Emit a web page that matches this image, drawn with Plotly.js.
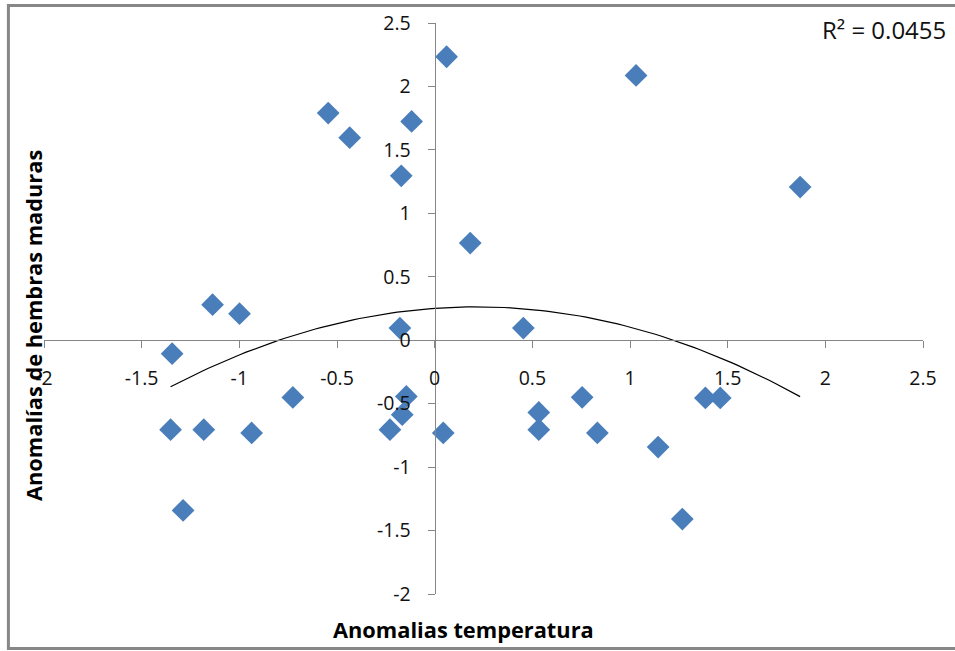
<!DOCTYPE html>
<html>
<head>
<meta charset="utf-8">
<script src="https://cdn.plot.ly/plotly-3.0.1.min.js"></script>
<style>html,body{margin:0;padding:0;background:#fff;}#chart{width:955px;height:651px;}</style>
</head>
<body>
<div id="chart"></div>
<script>
// Temperature anomalies (x) and mature-female anomalies (y)
const tempAnomalies = [0.061, 1.031, -0.545, -0.435, -0.118, -0.171, 1.871, 0.182, -1.137, -0.999,
  -0.178, 0.454, -1.344, -0.726, -0.145, -0.166, -0.229, -1.352, -1.182, -0.937,
  0.044, -1.288, 0.533, 0.533, 0.755, 0.833, 1.144, 1.386, 1.462, 1.268];
const femaleAnomalies = [2.234, 2.087, 1.790, 1.596, 1.724, 1.296, 1.207, 0.766, 0.280, 0.209,
  0.096, 0.096, -0.106, -0.451, -0.443, -0.587, -0.705, -0.705, -0.705, -0.731,
  -0.731, -1.341, -0.569, -0.705, -0.450, -0.731, -0.842, -0.455, -0.455, -1.409];
const tickValues = [-2, -1.5, -1, -0.5, 0, 0.5, 1, 1.5, 2, 2.5];
const tickLabels = ["-2", "-1.5", "-1", "-0.5", "0", "0.5", "1", "1.5", "2", "2.5"];
const xTitle = "Anomalias temperatura";
const yTitle = "Anomalías de hembras maduras";
const r2Label = "R² = 0.0455";

// Polynomial (order 2) least-squares trendline from the data
function polyFit2(xs, ys) {
  let S = [0,0,0,0,0], T = [0,0,0];
  for (let i = 0; i < xs.length; i++) {
    let p = 1;
    for (let k = 0; k < 5; k++) { S[k] += p; if (k < 3) T[k] += p * ys[i]; p *= xs[i]; }
  }
  const A = [[S[0],S[1],S[2],T[0]],[S[1],S[2],S[3],T[1]],[S[2],S[3],S[4],T[2]]];
  for (let c = 0; c < 3; c++) {
    for (let r = c + 1; r < 3; r++) {
      const f = A[r][c] / A[c][c];
      for (let k = c; k < 4; k++) A[r][k] -= f * A[c][k];
    }
  }
  const sol = [0,0,0];
  for (let r = 2; r >= 0; r--) {
    let s = A[r][3];
    for (let k = r + 1; k < 3; k++) s -= A[r][k] * sol[k];
    sol[r] = s / A[r][r];
  }
  return sol;
}
const coef = polyFit2(tempAnomalies, femaleAnomalies);
const xmin = Math.min(...tempAnomalies), xmax = Math.max(...tempAnomalies);
const trendX = [], trendY = [];
for (let i = 0; i <= 100; i++) {
  const x = xmin + (xmax - xmin) * i / 100;
  trendX.push(x); trendY.push(coef[0] + coef[1] * x + coef[2] * x * x);
}

const axisColor = '#868686';
const tickFont = {family: 'Open Sans, sans-serif', size: 19.5, color: '#111'};
const zeroPos = 2 / 4.5;

const data = [
  {x: trendX, y: trendY, mode: 'lines', type: 'scatter', line: {color: '#000', width: 1.2}, hoverinfo: 'skip'},
  {x: tempAnomalies, y: femaleAnomalies, mode: 'markers', type: 'scatter',
   marker: {symbol: 'diamond', size: 17.5, color: '#4a7ebb', line: {width: 0}}, cliponaxis: false}
];

const layout = {
  width: 955, height: 651,
  margin: {l: 44, r: 32, t: 23, b: 57},
  paper_bgcolor: '#fff', plot_bgcolor: '#fff',
  showlegend: false,
  xaxis: {
    range: [-2, 2.5], tickvals: tickValues, ticktext: tickLabels,
    showgrid: false, zeroline: false, showline: true, linecolor: axisColor, linewidth: 1,
    ticks: 'outside', ticklen: 7, tickcolor: axisColor, tickfont: tickFont,
    anchor: 'free', position: zeroPos, ticklabelstandoff: 13, fixedrange: true
  },
  yaxis: {
    range: [-2, 2.5], tickvals: tickValues, ticktext: tickLabels,
    showgrid: false, zeroline: false, showline: true, linecolor: axisColor, linewidth: 1,
    ticks: 'outside', ticklen: 7, tickcolor: axisColor, tickfont: tickFont,
    anchor: 'free', position: zeroPos, ticklabelstandoff: 13, fixedrange: true
  },
  shapes: [
    {type: 'rect', xref: 'paper', yref: 'paper', x0: -0.0405, x1: 1.045, y0: -0.0955, y1: 1.0305,
     line: {color: '#878787', width: 3}, fillcolor: 'rgba(0,0,0,0)', layer: 'below'}
  ],
  annotations: [
    {text: xTitle, xref: 'paper', yref: 'paper', x: (463 - 44) / 879, y: (594 - 629) / 571,
     xanchor: 'center', yanchor: 'middle', showarrow: false,
     font: {family: 'Open Sans, sans-serif', size: 21.8, color: '#000', weight: 'bold'}},
    {text: yTitle, xref: 'paper', yref: 'paper', x: (33.5 - 44) / 879, y: (594 - 325.5) / 571,
     xanchor: 'center', yanchor: 'middle', textangle: -90, showarrow: false,
     font: {family: 'Open Sans, sans-serif', size: 21.8, color: '#000', weight: 'bold'}},
    {text: r2Label, xref: 'paper', yref: 'paper', x: (948 - 44) / 879, y: (594 - 30) / 571,
     xanchor: 'right', yanchor: 'middle', showarrow: false,
     font: {family: 'Open Sans, sans-serif', size: 24, color: '#111'}}
  ]
};

Plotly.newPlot('chart', data, layout, {displayModeBar: false, staticPlot: true});
</script>
</body>
</html>
